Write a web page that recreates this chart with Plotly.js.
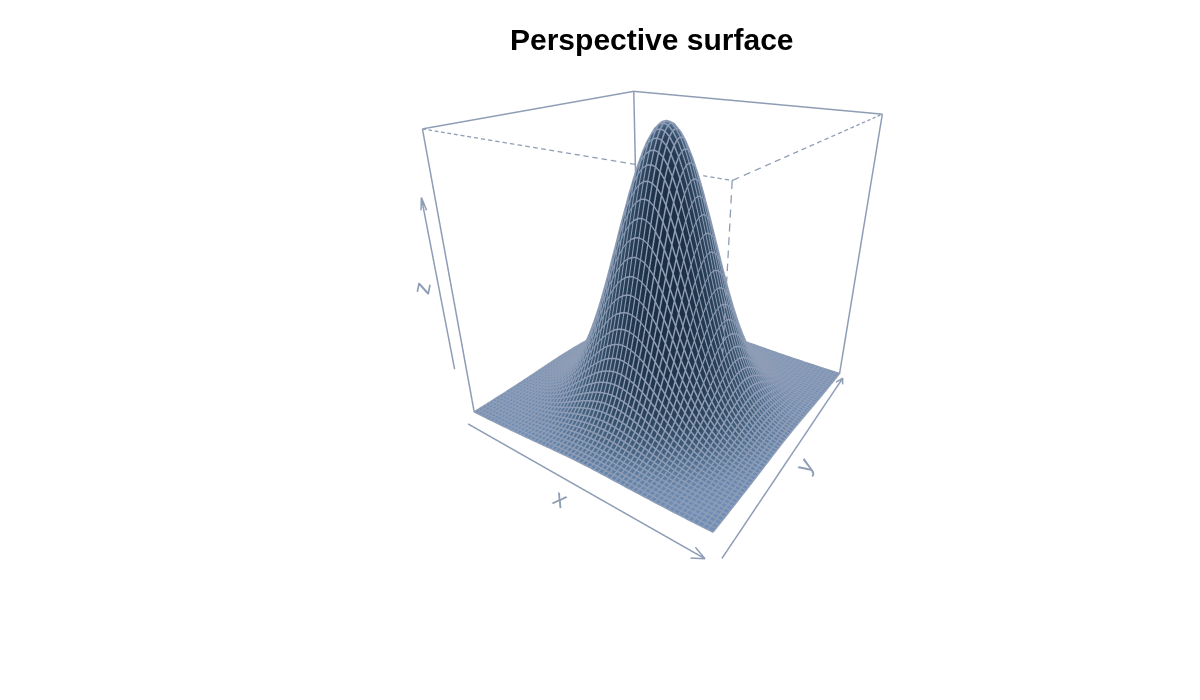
<!DOCTYPE html>
<html><head><meta charset="utf-8">
<script src="https://cdn.plot.ly/plotly-3.0.1.min.js"></script>
<style>html,body{margin:0;background:#fff}</style></head>
<body><div id="c" style="width:1200px;height:700px"></div>
<script>
// Height read at grid steps of 0.1 from the centre outward (one octant; the surface is symmetric).
const zOctant = [
[1],
[.995,.990],
[.980,.975,.961],
[.956,.951,.937,.914],
[.923,.918,.905,.882,.852],
[.882,.878,.865,.844,.815,.779],
[.835,.831,.819,.799,.771,.737,.698],
[.783,.779,.767,.748,.722,.691,.654,.613],
[.726,.722,.712,.694,.670,.641,.607,.568,.527],
[.667,.664,.654,.638,.616,.589,.557,.522,.484,.445],
[.607,.603,.595,.580,.560,.535,.507,.475,.440,.405,.368],
[.546,.543,.535,.522,.504,.482,.456,.427,.397,.364,.331,.298],
[.487,.484,.477,.465,.449,.430,.407,.381,.353,.325,.295,.266,.237],
[.430,.427,.421,.411,.397,.379,.359,.336,.312,.287,.261,.235,.209,.185],
[.375,.373,.368,.359,.346,.331,.313,.294,.273,.250,.228,.205,.183,.161,.141],
[.325,.323,.318,.310,.300,.287,.271,.254,.236,.217,.197,.177,.158,.139,.122,.105],
[.278,.277,.272,.266,.257,.245,.232,.218,.202,.185,.169,.152,.135,.119,.104,.090,.077],
[.236,.235,.231,.225,.218,.208,.197,.184,.171,.157,.143,.129,.115,.101,.088,.077,.066,.056],
[.198,.197,.194,.189,.183,.175,.165,.155,.144,.132,.120,.108,.096,.085,.074,.064,.055,.047,.039],
[.165,.164,.161,.157,.152,.145,.137,.129,.119,.110,.100,.090,.080,.071,.062,.053,.046,.039,.033,.027],
[.135,.135,.133,.129,.125,.119,.113,.106,.098,.090,.082,.074,.066,.058,.051,.044,.038,.032,.027,.022,.018],
[.110,.110,.108,.105,.102,.097,.092,.086,.080,.074,.067,.060,.054,.047,.041,.036,.031,.026,.022,.018,.015,.012],
[.089,.088,.087,.085,.082,.078,.074,.070,.065,.059,.054,.049,.043,.038,.033,.029,.025,.021,.018,.015,.012,.010,.008],
[.071,.071,.070,.068,.066,.063,.059,.056,.052,.047,.043,.039,.035,.031,.027,.023,.020,.017,.014,.012,.010,.008,.006,.005],
[.056,.056,.055,.054,.052,.050,.047,.044,.041,.037,.034,.031,.027,.024,.021,.018,.016,.013,.011,.009,.008,.006,.005,.004,.003],
[.044,.044,.043,.042,.041,.039,.037,.034,.032,.029,.027,.024,.021,.019,.016,.014,.012,.010,.009,.007,.006,.005,.004,.003,.002,.002],
[.034,.034,.033,.033,.031,.030,.028,.027,.025,.023,.021,.019,.017,.015,.013,.011,.009,.008,.007,.006,.005,.004,.003,.002,.002,.001,.001],
[.026,.026,.026,.025,.024,.023,.022,.020,.019,.017,.016,.014,.013,.011,.010,.008,.007,.006,.005,.004,.004,.003,.002,.002,.001,.001,.001,.001],
[.020,.020,.019,.019,.018,.017,.017,.015,.014,.013,.012,.011,.010,.009,.007,.006,.006,.005,.004,.003,.003,.002,.002,.001,.001,.001,.001,.001,0],
[.015,.015,.015,.014,.014,.013,.012,.012,.011,.010,.009,.008,.007,.006,.006,.005,.004,.004,.003,.002,.002,.002,.001,.001,.001,.001,.001,0,0,0],
[.011,.011,.011,.011,.010,.010,.009,.009,.008,.007,.007,.006,.005,.005,.004,.004,.003,.003,.002,.002,.002,.001,.001,.001,.001,0,0,0,0,0,0]];
const gridSteps = [-3,-2.9,-2.8,-2.7,-2.6,-2.5,-2.4,-2.3,-2.2,-2.1,-2,-1.9,-1.8,-1.7,-1.6,-1.5,-1.4,-1.3,-1.2,-1.1,-1,-.9,-.8,-.7,-.6,-.5,-.4,-.3,-.2,-.1,0,.1,.2,.3,.4,.5,.6,.7,.8,.9,1,1.1,1.2,1.3,1.4,1.5,1.6,1.7,1.8,1.9,2,2.1,2.2,2.3,2.4,2.5,2.6,2.7,2.8,2.9,3];
const boxX = [-3,3], boxY = [-3,3], boxZ = [0,1];
const titleText = "Perspective surface";
const C = "#8e9db5";

const n = gridSteps.length, mid = (n-1)/2;
const zAt = (i,j)=>{const a=Math.abs(i-mid),b=Math.abs(j-mid);return a>=b?zOctant[a][b]:zOctant[b][a];};
const z = gridSteps.map((_,j)=>gridSteps.map((_,i)=>zAt(i,j)));
// fill shade from the surface slope, light from behind and above
const v=[.574,-.819], c0=.8, s0=.6, h=1/(n-1);
const shade = z.map((row,j)=>row.map((_,i)=>{
  const zx=(z[j][Math.min(i+1,n-1)]-z[j][Math.max(i-1,0)])/(2*h);
  const zy=(z[Math.min(j+1,n-1)][i]-z[Math.max(j-1,0)][i])/(2*h);
  const len=Math.hypot(zx,zy,1);
  return (zx*v[0]*c0+zy*v[1]*c0+s0)/len;
}));

const [x0,x1]=boxX,[y0,y1]=boxY,[z0,z1]=boxZ;
const line=(xs,ys,zs,w)=>({type:"scatter3d",mode:"lines",x:xs,y:ys,z:zs,hoverinfo:"skip",showlegend:false,
  connectgaps:false,line:{color:C,width:w||3}});
const gap=null;
// dashed edge: a solid trace broken into short pieces
const dashed=(a,b,count)=>{const X=[],Y=[],Z=[];
  for(let k=0;k<count;k++){const s=k/count,e=(k+.58)/count;
    X.push(a[0]+(b[0]-a[0])*s,a[0]+(b[0]-a[0])*e,gap);
    Y.push(a[1]+(b[1]-a[1])*s,a[1]+(b[1]-a[1])*e,gap);
    Z.push(a[2]+(b[2]-a[2])*s,a[2]+(b[2]-a[2])*e,gap);}
  return line(X,Y,Z,2.6);};
// mesh lines along both grid directions
const gx=[],gy=[],gz=[];
const lift=.002;
gridSteps.forEach((yv,j)=>{gridSteps.forEach((xv,i)=>{gx.push(xv);gy.push(yv);gz.push(z[j][i]+lift);});gx.push(gap);gy.push(gap);gz.push(gap);});
gridSteps.forEach((xv,i)=>{gridSteps.forEach((yv,j)=>{gx.push(xv);gy.push(yv);gz.push(z[j][i]+lift);});gx.push(gap);gy.push(gap);gz.push(gap);});
const traces=[
 {type:"surface",x:gridSteps,y:gridSteps,z:z,surfacecolor:shade,cmin:-.61,cmax:.6,showscale:false,hoverinfo:"skip",
  colorscale:[[0,"#1a2e42"],[.5,"#43607c"],[1,"#6f8fba"]],
  lighting:{ambient:1,diffuse:0,specular:0,roughness:1,fresnel:0},
  contours:{x:{show:false,highlight:false},y:{show:false,highlight:false},z:{show:false,highlight:false}}},
 line(gx,gy,gz,3),
 // solid back edges and verticals
 line([x0,x0,gap,x0,x1,gap,x0,x0,gap,x1,x1,gap,x0,x0],[y0,y1,gap,y1,y1,gap,y1,y1,gap,y1,y1,gap,y0,y0],[z1,z1,gap,z1,z1,gap,z0,z1,gap,z0,z1,gap,z0,z1]),
 // dashed near edges, as far as the surface leaves them visible
 dashed([x0,y0,z1],[1.61,y0,z1],28),
 dashed([2.59,y0,z1],[x1,y0,z1],4),
 dashed([x1,y0,z1],[x1,y1,z1],20),
 dashed([x1,y0,z1],[x1,y0,.575],14),
 // axis arrows
 line([-2.78,3.17,gap,3.17,2.92,gap,3.17,2.97],[-3.35,-3.54,gap,-3.54,-3.43,gap,-3.54,-3.66],[0,0,gap,0,0,gap,0,0]),
 line([3.39,3.13,gap,3.13,3.06,gap,3.13,3.22],[-3.38,2.86,gap,2.86,2.6,gap,2.86,2.6],[0,0,gap,0,0,gap,0,0]),
 line([-3.2,-3.2,gap,-3.2,-3.24,gap,-3.2,-3.16],[-3.14,-3.14,gap,-3.14,-3.17,gap,-3.14,-3.11],[.186,.80,gap,.80,.76,gap,.80,.76])
];
const ax=(r)=>({range:r,visible:false,showgrid:false,zeroline:false,showline:false,showticklabels:false,showbackground:false,showspikes:false,title:{text:""}});
const label=(t,x,y,a)=>({xref:"paper",yref:"paper",x:x/1200,y:1-y/700,xanchor:"center",yanchor:"middle",text:t,textangle:a,showarrow:false,
  font:{family:"Liberation Sans",size:24,color:C}});
Plotly.newPlot("c",traces,{
 width:1200,height:700,margin:{l:0,r:0,t:0,b:0},paper_bgcolor:"#fff",showlegend:false,
 scene:{domain:{x:[363/1200,963/1200],y:[.1707,.8864]},bgcolor:"#fff",
  xaxis:ax([-3.7,3.7]),yaxis:ax([-3.7,3.7]),zaxis:ax([-.1167,1.1167]),
  aspectmode:"manual",aspectratio:{x:1.2333,y:1.2333,z:1.221},
  camera:{eye:{x:1.075,y:-1.584,z:.812},center:{x:.05,y:-.092,z:-.171},up:{x:0,y:0,z:1},projection:{type:"perspective"}}},
 annotations:[
  {xref:"paper",yref:"paper",x:651.5/1200,y:1-39/700,xanchor:"center",yanchor:"middle",text:"<b>"+titleText+"</b>",showarrow:false,
   font:{family:"Liberation Sans",size:30,color:"#000"}},
  label("x",561,498,30),label("y",804,465,-57),label("z",421,288,-79)]
},{displayModeBar:false});
</script></body></html>
